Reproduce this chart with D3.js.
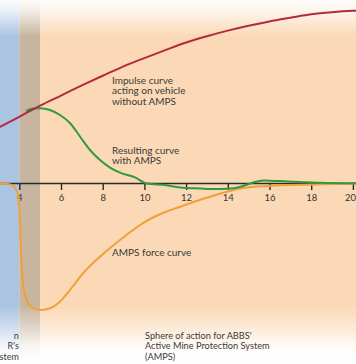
<!DOCTYPE html>
<html><head><meta charset="utf-8">
<script src="https://cdn.jsdelivr.net/npm/d3@7"></script>
<style>body{margin:0;background:#fff}svg{display:block}</style>
</head><body>
<svg id="c" width="356" height="364"></svg>
<script>
// ---- data ----
const tickValues = [4, 6, 8, 10, 12, 14, 16, 18, 20];
const zoneNames = ["vehicle", "delay", "amps"];
const zoneStart = [2, 4, 5];
const zoneEnd = [4, 5, 22];
const zoneColors = ["#aac4e2", "#c8b59f", "#fbd9b6"];

const impulseT = [3.0, 4, 5, 6, 7, 8, 9, 10, 11, 12, 13, 14, 15, 16, 17, 18, 19, 20, 20.4];
const impulseV = [32.1, 38.4, 44.9, 50.7, 56.5, 62.1, 67.5, 72.3, 76.9, 81.3, 84.9, 88.1, 90.9, 93.4, 95.5, 97.5, 98.7, 99.5, 99.7];

const resultT = [4.32, 4.66, 4.99, 5.47, 5.95, 6.43, 6.91, 7.39, 7.87, 8.35, 8.83, 9.55, 10.12, 10.99, 11.71, 12.67, 13.39, 14.0, 14.58, 15.3, 15.78, 16.5, 17.46, 18.42, 20.4];
const resultV = [41.8, 43.2, 43.3, 42.4, 39.5, 34.9, 27.1, 19.3, 13.5, 9.2, 6.3, 3.5, 0, -0.9, -2.3, -2.9, -3.2, -3.0, -2.0, 0.9, 1.7, 1.4, 0.9, 0.4, 0.1];

const forceT = [3.0, 3.46, 3.65, 3.88, 4.0, 4.07, 4.16, 4.35, 4.67, 5.07, 5.47, 5.95, 6.43, 7.07, 7.87, 8.83, 9.93, 10.89, 11.71, 13.1, 14.73, 15.97, 17.98, 19.95, 20.4];
const forceV = [0, -0.3, -0.9, -4.3, -14.1, -36.4, -55.6, -67.1, -71.8, -72.9, -71.9, -68.1, -61.4, -51.6, -42.2, -32.6, -22.8, -17.0, -13.4, -7.8, -2.6, -1.4, -0.6, 0, 0];

const impulseLabel = ["Impulse curve", "acting on vehicle", "without AMPS"];
const resultLabel = ["Resulting curve", "with AMPS"];
const forceLabel = ["AMPS force curve"];
const sphereLabel = ["Sphere of action for ABBS'", "Active Mine Protection System", "(AMPS)"];
const leftLabel = ["n", "R's", "stem"];

// ---- drawing ----
const W = 356, H = 364;
const FONT = "Lato, 'Open Sans', sans-serif";
const svg = d3.select("#c");
const x = d3.scaleLinear().domain([4, 20]).range([19.3, 352.9]);
const y = d3.scaleLinear().domain([0, 100]).range([183.5, 10]);

const defs = svg.append("defs");
const g1 = defs.append("linearGradient").attr("id", "fade").attr("x1", 0).attr("y1", 0).attr("x2", 0).attr("y2", 1);
[[0, 0.95], [0.03, 0.75], [0.1, 0], [0.84, 0], [0.9, 0.45], [0.955, 0.9], [1, 1]].forEach(([o, a]) =>
  g1.append("stop").attr("offset", o).attr("stop-color", "#fff").attr("stop-opacity", a));

svg.selectAll("rect.zone").data(zoneNames).join("rect")
  .attr("class", "zone")
  .attr("x", (d, i) => Math.max(0, x(zoneStart[i])))
  .attr("width", (d, i) => Math.min(W, x(zoneEnd[i])) - Math.max(0, x(zoneStart[i])))
  .attr("y", 0).attr("height", H)
  .attr("fill", (d, i) => zoneColors[i]);

svg.append("rect").attr("width", W).attr("height", H).attr("fill", "url(#fade)");

// axis
const axis = d3.axisBottom(x).tickValues(tickValues).tickSize(6.5).tickPadding(4).tickSizeOuter(0);
const ax = svg.append("g").attr("transform", `translate(0,${y(0)})`).call(axis);
ax.select(".domain").attr("d", `M${x(3)},0H${x(20.4)}`).attr("stroke", "#2b2b2b").attr("stroke-width", 1.6);
ax.selectAll(".tick line").attr("stroke", "#2b2b2b").attr("stroke-width", 1.4);
ax.selectAll(".tick text").attr("fill", "#333").style("font", "9.5px " + FONT);
ax.selectAll(".tick text").filter(d => d === 20).attr("text-anchor", "end").attr("x", W - x(20) - 0.5);

const line = d3.line().x(d => x(d[0])).y(d => y(d[1])).curve(d3.curveMonotoneX);
const series = [
  {t: forceT, v: forceV, c: "#f0a035"},
  {t: resultT, v: resultV, c: "#2f9a3e"},
  {t: impulseT, v: impulseV, c: "#b42a3c"}
];
svg.selectAll("path.s").data(series).join("path")
  .attr("class", "s")
  .attr("d", s => line(s.t.map((t, i) => [t, s.v[i]])))
  .attr("fill", "none").attr("stroke", s => s.c).attr("stroke-width", 2);

function label(lines, px, py, size, anchor) {
  const t = svg.append("text").attr("x", px).attr("y", py)
    .attr("text-anchor", anchor || "start")
    .attr("fill", "#3a3a3a").style("font", size + "px " + FONT);
  t.selectAll("tspan").data(lines).join("tspan")
    .attr("x", px).attr("dy", (d, i) => i ? 10.5 : 0).text(d => d);
}
label(impulseLabel, 112, 83.5, 10);
label(resultLabel, 112, 153.5, 10);
label(forceLabel, 112, 255.5, 10);
label(sphereLabel, 145, 338.5, 9.2);
label(leftLabel, 18.8, 338.5, 9, "end");
</script>
</body></html>
